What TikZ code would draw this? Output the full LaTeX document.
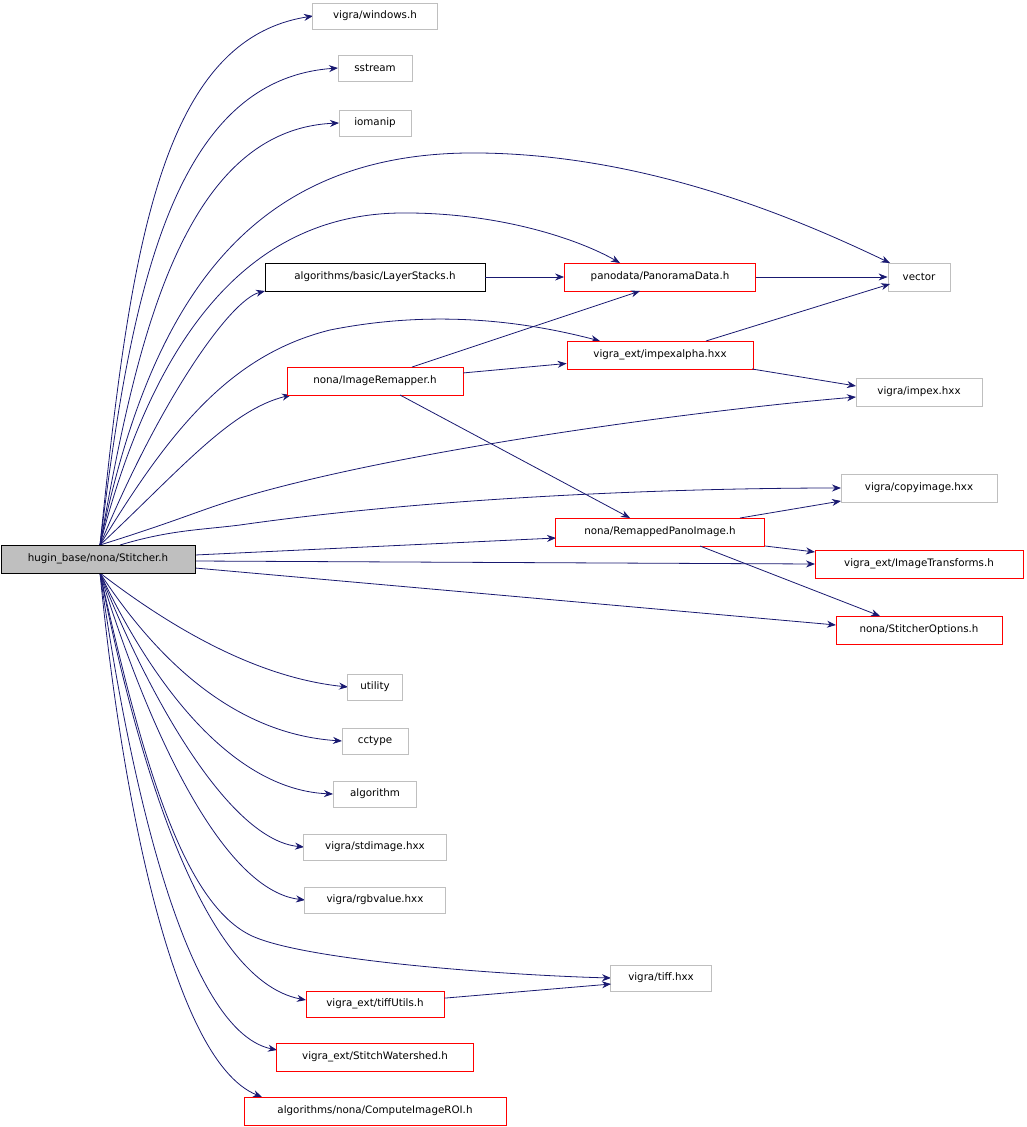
\documentclass[tikz,border=0pt]{standalone}
\usepackage{fontspec}
\setmainfont{DejaVu Sans}
\usetikzlibrary{arrows.meta}
\definecolor{edge}{HTML}{191970}
\definecolor{gb}{HTML}{BFBFBF}
\tikzset{
 box/.style={draw=gb,line width=0.8pt,inner sep=0pt,minimum height=26pt,font=\fontsize{10.3}{12}\selectfont},
 rbox/.style={draw=red,line width=0.8pt,inner sep=0pt,minimum height=26pt,font=\fontsize{10.3}{12}\selectfont},
 kbox/.style={draw=black,line width=0.8pt,inner sep=0pt,minimum height=26pt,font=\fontsize{10.3}{12}\selectfont},
 e/.style={draw=edge,line width=0.8pt,-{Stealth[length=9pt,width=7pt]}}
}
\begin{document}
\begin{tikzpicture}[x=1pt,y=-1pt]
\useasboundingbox (0,0) rectangle (1026,1127);
\coordinate (t) at (100,545);
\coordinate (b) at (100,573);
\coordinate (p1) at (620,263);
\path[e] (t) .. controls (130,250) and (160,40) .. (313,16);
\path[e] (t) .. controls (130,300) and (170,80) .. (338,68);
\path[e] (t) .. controls (135,350) and (180,130) .. (339,123);
\path[e] (t) .. controls (150,300) and (250,150) .. (480,153) .. controls (650,155) and (800,220) .. (890,263);
\path[e] (t) .. controls (150,350) and (240,215) .. (400,213) .. controls (500,212) and (580,240) .. (p1);
\path[e] (t) .. controls (160,400) and (230,300) .. (265,291);
\path[e] (t) .. controls (170,430) and (230,355) .. (330,330) .. controls (430,310) and (520,320) .. (600,341);
\path[e] (t) .. controls (180,470) and (230,410) .. (291,395);
\path[e] (t) .. controls (180,520) and (200,510) .. (240,498) .. controls (400,450) and (700,410) .. (856,397);
\path[e] (120,545) .. controls (170,530) and (200,530) .. (240,525) .. controls (450,495) and (700,488) .. (841,488);
\path[e] (195,555) -- (556,538);
\path[e] (195,561) -- (815,564);
\path[e] (195,568) -- (836,625);
\path[e] (b) .. controls (200,650) and (280,680) .. (348,687);
\path[e] (b) .. controls (170,680) and (250,735) .. (342,741);
\path[e] (b) .. controls (160,700) and (240,790) .. (333,794);
\path[e] (b) .. controls (150,700) and (230,840) .. (304,847);
\path[e] (b) .. controls (145,720) and (220,890) .. (305,900);
\path[e] (b) .. controls (140,750) and (180,900) .. (250,935) .. controls (300,960) and (500,975) .. (611,978);
\path[e] (b) .. controls (135,750) and (200,980) .. (306,1000);
\path[e] (b) .. controls (125,750) and (180,1030) .. (277,1050);
\path[e] (b) .. controls (120,780) and (170,1060) .. (262,1097);
\node[kbox,fill=gb,minimum width=194pt,minimum height=28pt] (s) at (98,559) {hugin\_base/nona/Stitcher.h};
\node[box,fill=white,minimum width=125pt] (win) at (375,16) {vigra/windows.h};
\node[box,fill=white,minimum width=74pt] (ss) at (375,68) {sstream};
\node[box,fill=white,minimum width=72pt] (io) at (375,123) {iomanip};
\node[box,fill=white,minimum width=62pt,minimum height=28pt] (vec) at (919,277) {vector};
\node[kbox,fill=white,minimum width=220pt,minimum height=28pt] (ls) at (375,277) {algorithms/basic/LayerStacks.h};
\node[rbox,fill=white,minimum width=191pt,minimum height=28pt] (pd) at (660,277) {panodata/PanoramaData.h};
\node[rbox,fill=white,minimum width=186pt,minimum height=28pt] (ia) at (660,355) {vigra\_ext/impexalpha.hxx};
\node[rbox,fill=white,minimum width=176pt,minimum height=28pt] (ir) at (375,381) {nona/ImageRemapper.h};
\node[box,fill=white,minimum width=126pt,minimum height=28pt] (im) at (919,392) {vigra/impex.hxx};
\node[box,fill=white,minimum width=156pt,minimum height=28pt] (ci) at (919,488) {vigra/copyimage.hxx};
\node[rbox,fill=white,minimum width=209pt,minimum height=28pt] (rp) at (660,532) {nona/RemappedPanoImage.h};
\node[rbox,fill=white,minimum width=208pt,minimum height=28pt] (it) at (919,564) {vigra\_ext/ImageTransforms.h};
\node[rbox,fill=white,minimum width=166pt,minimum height=28pt] (so) at (919,630) {nona/StitcherOptions.h};
\node[box,fill=white,minimum width=55pt] (ut) at (375,687) {utility};
\node[box,fill=white,minimum width=66pt] (cc) at (375,741) {cctype};
\node[box,fill=white,minimum width=83pt] (al) at (375,794) {algorithm};
\node[box,fill=white,minimum width=143pt] (sd) at (375,847) {vigra/stdimage.hxx};
\node[box,fill=white,minimum width=141pt] (rg) at (375,900) {vigra/rgbvalue.hxx};
\node[box,fill=white,minimum width=101pt] (tf) at (661,978) {vigra/tiff.hxx};
\node[rbox,fill=white,minimum width=138pt] (tu) at (375,1004) {vigra\_ext/tiffUtils.h};
\node[rbox,fill=white,minimum width=197pt,minimum height=28pt] (sw) at (375,1057) {vigra\_ext/StitchWatershed.h};
\node[rbox,fill=white,minimum width=262pt,minimum height=28pt] (cr) at (375,1111) {algorithms/nona/ComputeImageROI.h};
\path[e] (ls) -- (pd);
\path[e] (pd) -- (vec);
\path[e] (412,367) -- (640,291);
\path[e] (ir) -- (ia);
\path[e] (400,395) -- (630,518);
\path[e] (706,341) -- (890,284);
\path[e] (752,369) -- (856,386);
\path[e] (740,518) -- (841,501);
\path[e] (765,546) -- (815,552);
\path[e] (700,546) -- (880,616);
\path[e] (tu) -- (611,984);
\end{tikzpicture}
\end{document}
